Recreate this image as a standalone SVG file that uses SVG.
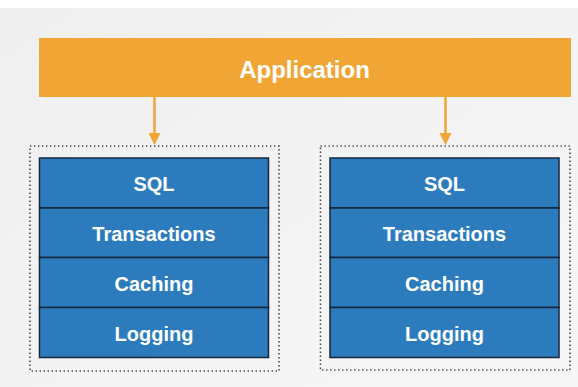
<svg xmlns="http://www.w3.org/2000/svg" width="578" height="387" viewBox="0 0 578 387">
  <style>
    .lbl { font-family: "Liberation Sans", Arial, Helvetica, sans-serif; font-weight: bold; fill: #ffffff; text-anchor: middle; }
    .row { font-size: 20px; }
    .app { font-size: 24px; }
    .layer { fill: #2c7cbd; stroke: #15263a; stroke-width: 1.5; }
    .frame { fill: none; stroke: #4a4a4a; stroke-width: 1.6; stroke-dasharray: 1.4 2.6; }
    .conn { stroke: #f0a534; stroke-width: 2.5; fill: none; }
  </style>
  <defs>
    <linearGradient id="bg" x1="0" y1="0" x2="1" y2="1">
      <stop offset="0" stop-color="#efefef"/>
      <stop offset="0.5" stop-color="#f3f3f3"/>
      <stop offset="1" stop-color="#f7f7f7"/>
    </linearGradient>
    <marker id="arrow" markerWidth="12" markerHeight="12" refX="1" refY="6" orient="auto" markerUnits="userSpaceOnUse" viewBox="0 0 12 12">
      <path d="M0,0 L12,6 L0,12 Z" fill="#f0a534"/>
    </marker>
  </defs>

  <rect x="0" y="0" width="578" height="387" fill="#ffffff"/>
  <rect x="0" y="8" width="578" height="379" fill="url(#bg)"/>

  <g id="application">
    <rect x="39" y="38" width="532" height="59" fill="#f0a534"/>
    <text class="lbl app" x="304.5" y="77.5">Application</text>
  </g>

  <g id="connectors">
    <line class="conn" x1="154.5" y1="97" x2="154.5" y2="134" marker-end="url(#arrow)"/>
    <line class="conn" x1="445.5" y1="97" x2="445.5" y2="134" marker-end="url(#arrow)"/>
  </g>

  <g id="stack-left">
    <rect class="frame" x="30" y="146" width="249" height="225"/>
    <g id="left-sql">
      <rect class="layer" x="39.5" y="158" width="229" height="50"/>
      <text class="lbl row" x="154" y="191">SQL</text>
    </g>
    <g id="left-transactions">
      <rect class="layer" x="39.5" y="208" width="229" height="49.5"/>
      <text class="lbl row" x="154" y="240.5">Transactions</text>
    </g>
    <g id="left-caching">
      <rect class="layer" x="39.5" y="257.5" width="229" height="50"/>
      <text class="lbl row" x="154" y="290.5">Caching</text>
    </g>
    <g id="left-logging">
      <rect class="layer" x="39.5" y="307.5" width="229" height="50"/>
      <text class="lbl row" x="154" y="340.5">Logging</text>
    </g>
  </g>

  <g id="stack-right">
    <rect class="frame" x="320.5" y="146" width="249.5" height="224"/>
    <g id="right-sql">
      <rect class="layer" x="330" y="158" width="229" height="50"/>
      <text class="lbl row" x="444.5" y="191">SQL</text>
    </g>
    <g id="right-transactions">
      <rect class="layer" x="330" y="208" width="229" height="49.5"/>
      <text class="lbl row" x="444.5" y="240.5">Transactions</text>
    </g>
    <g id="right-caching">
      <rect class="layer" x="330" y="257.5" width="229" height="50"/>
      <text class="lbl row" x="444.5" y="290.5">Caching</text>
    </g>
    <g id="right-logging">
      <rect class="layer" x="330" y="307.5" width="229" height="50"/>
      <text class="lbl row" x="444.5" y="340.5">Logging</text>
    </g>
  </g>
</svg>
